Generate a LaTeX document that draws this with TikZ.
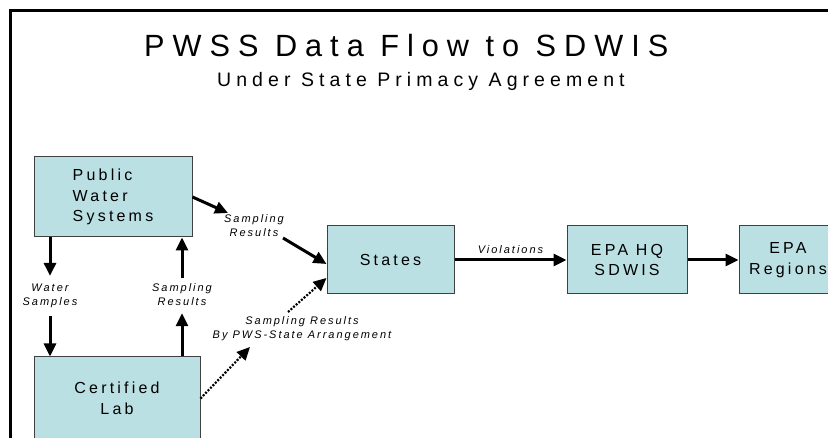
\documentclass[tikz,border=0pt]{standalone}
\usepackage{fontspec}
\setmainfont{Liberation Sans}
\newfontfamily\titlefont[LetterSpace=26]{Liberation Sans}
\newfontfamily\boxfont[LetterSpace=20]{Liberation Sans}
\newfontfamily\lblfont[LetterSpace=18]{Liberation Sans}
\usetikzlibrary{arrows.meta,calc}
\definecolor{boxfill}{RGB}{187,224,227}
\definecolor{boxline}{RGB}{64,64,64}

\begin{document}
\begin{tikzpicture}[x=1pt,y=-1pt,
 every edge/.style = {draw, line width=3pt, -{Triangle[length=13pt,width=12pt]}},
 dots/.style = {line width=2.2pt, dash pattern=on 2pt off 1.5pt},
 blk/.style args = {#1/#2}{draw=boxline, line width=1pt, fill=boxfill, minimum width=#1, minimum height=#2,
   inner sep=0pt, align=center, font=\boxfont\fontsize{16}{20.5}\selectfont},
 lbl/.style = {inner sep=0pt, align=center, font=\lblfont\itshape\fontsize{11}{14}\selectfont}]

\useasboundingbox (0,0) rectangle (828,438);
\clip (0,0) rectangle (828,438);

\draw[line width=3pt] (10.5,440) -- (10.5,10.5) -- (830,10.5);

\node(title) [anchor=base west, inner sep=0pt, font=\titlefont\fontsize{30.7}{36}\selectfont] at (144,57) {PWSS Data Flow to SDWIS};
\node(sub) [anchor=base west, inner sep=0pt, font=\titlefont\fontsize{19.5}{23}\selectfont] at (217,87) {Under State Primacy Agreement};

\node(pws) [blk=158pt/80pt, align=left] at (113,197) {Public\\Water\\Systems};
\node(lab) [blk=166pt/83pt] at (117,398.5) {Certified\\Lab};
\node(states) [blk=127pt/68pt] at (390.5,260) {States};
\node(hq) [blk=120pt/68pt] at (627,260) {EPA HQ\\SDWIS};
\node(reg) [blk=98pt/68pt] at (788,260) {EPA\\Regions};

\node(ws) [lbl] at (50,296) {Water\\Samples};
\node(sr3) [lbl] at (182,295) {Sampling\\Results};
\node(sr1) [lbl] at (254,226) {Sampling\\Results};
\node(sr2) [lbl] at (302,329) {Sampling Results\\By PWS-State Arrangement};

\coordinate(s1) at (228,213);
\coordinate(s2) at (283,238);
\coordinate(d1) at (250,347);
\coordinate(d2) at (288,312);
%
\path   (ws.north |- pws.south) edge [shorten >=8pt] (ws.north)
        (ws.south) edge [shorten <=8pt] (ws.south |- lab.north)
        (sr3.south |- lab.north) edge [shorten >=7pt] (sr3.south)
        (sr3.north) edge [shorten <=6pt] (sr3.north |- pws.south)
        (pws.east) edge (s1)
        (s2) edge ($(states.west)+(0,4)$)
        (lab.east) edge [dots] (d1)
        (d2) edge [dots] ($(states.west)+(0,18)$)
        (states) edge node(viol) [lbl, above=5pt] {Violations} (hq)
        (hq) edge (reg);

\end{tikzpicture}
\end{document}
